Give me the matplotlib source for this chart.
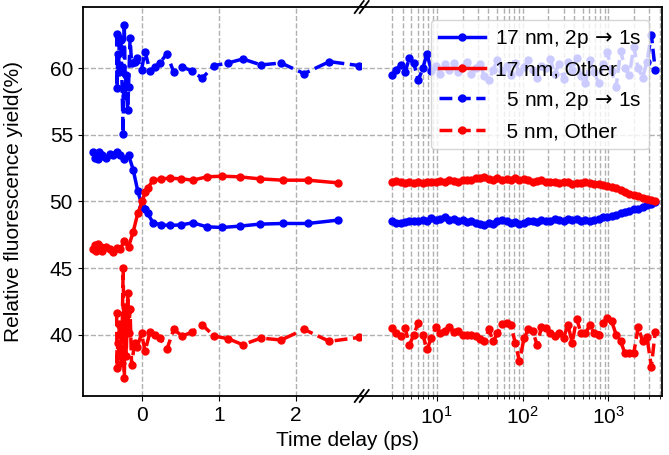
import numpy as np
import matplotlib
matplotlib.use("Agg")
import matplotlib.pyplot as plt
from matplotlib.ticker import FixedLocator, NullFormatter
from matplotlib.lines import Line2D

plt.rcParams['font.family'] = ['Liberation Sans', 'DejaVu Sans']
plt.rcParams['font.size'] = 15

# -----------------------------
# data, linear part (ps)
# -----------------------------
t17_lin = [-0.64, -0.62, -0.60, -0.58, -0.56, -0.54, -0.52, -0.47, -0.42, -0.38,
           -0.33, -0.29, -0.24, -0.18, -0.12, -0.06, 0.0, 0.035, 0.07, 0.14,
           0.25, 0.36, 0.51, 0.66, 0.84, 1.04, 1.27, 1.53, 1.83, 2.16, 2.55]
b17_lin = [53.7, 53.3, 53.6, 53.2, 53.7, 53.4, 53.5, 53.3, 53.6, 53.5,
           53.7, 53.5, 53.2, 53.5, 52.4, 50.8, 49.6, 49.4, 49.1, 48.4,
           48.25, 48.2, 48.25, 48.4, 48.1, 48.05, 48.15, 48.3, 48.35, 48.35, 48.6]
r17_lin = [46.4, 46.7, 46.3, 46.8, 46.5, 46.6, 46.3, 46.6, 46.4, 46.2,
           46.5, 46.4, 47.0, 46.6, 47.7, 49.1, 50.0, 50.7, 51.0, 51.6,
           51.7, 51.75, 51.7, 51.6, 51.85, 51.9, 51.85, 51.7, 51.6, 51.6, 51.4]

t5_lin = [-0.335, -0.33, -0.32, -0.31, -0.30, -0.28, -0.27, -0.25, -0.235, -0.22,
          -0.21, -0.19, -0.18, -0.16, -0.14, -0.10, -0.065, -0.01, 0.035, 0.10,
          0.165, 0.23, 0.32, 0.41, 0.52, 0.65, 0.78, 0.935, 1.12, 1.31,
          1.55, 1.81, 2.11, 2.44, 2.83]
b5_lin = [62.6, 58.5, 61.1, 59.75, 62.3, 62.1, 60.1, 55.1, 63.25, 57.9,
          59.5, 56.9, 58.6, 62.25, 60.4, 60.5, 60.75, 59.9, 61.25, 59.8,
          60.1, 60.4, 61.1, 59.7, 60.1, 59.8, 59.25, 60.2, 60.4, 60.7,
          60.25, 60.4, 59.6, 60.5, 60.2]
r5_lin = [41.6, 37.5, 39.4, 38.4, 40.8, 40.6, 37.9, 45.0, 36.75, 42.1,
          38.4, 43.1, 40.1, 41.9, 37.75, 39.4, 39.1, 40.1, 38.75, 40.2,
          40.0, 39.75, 38.9, 40.4, 39.9, 40.2, 40.75, 39.9, 39.7, 39.25,
          39.75, 39.6, 40.4, 39.5, 39.8]

# -----------------------------
# data, log part (ps)
# -----------------------------
t_log = [3.0, 3.4, 3.8, 4.3, 4.8, 5.4, 6.1, 6.9, 7.7, 8.7, 9.8,
         11, 12.4, 14, 15.7, 17.7, 20, 22.5, 25, 28.5, 32, 36,
         40.5, 45.5, 51, 58, 65, 73, 82, 92, 104,
         117, 131, 148, 166, 187, 210, 236, 266, 300, 337, 379,
         426, 480, 540, 607, 683, 768, 864, 972, 1090, 1230, 1385,
         1560, 1750, 1970, 2220, 2500, 2810, 3160, 3500]
b17_log = [48.5, 48.4, 48.35, 48.45, 48.5, 48.55, 48.5, 48.6, 48.55, 48.75, 48.6,
           48.7, 48.8, 48.6, 48.7, 48.5, 48.6, 48.45, 48.5, 48.4, 48.3, 48.25,
           48.35, 48.3, 48.5, 48.6, 48.5, 48.4, 48.45, 48.3, 48.35,
           48.5, 48.55, 48.45, 48.6, 48.5, 48.55, 48.65, 48.6, 48.5, 48.7, 48.6,
           48.65, 48.55, 48.6, 48.5, 48.6, 48.7, 48.8, 48.85, 48.9, 49.0, 49.1,
           49.2, 49.3, 49.4, 49.45, 49.6, 49.7, 49.8, 49.95]
r17_log = [51.5, 51.55, 51.45, 51.4, 51.45, 51.4, 51.5, 51.4, 51.45, 51.5, 51.45,
           51.55, 51.5, 51.6, 51.55, 51.5, 51.6, 51.65, 51.6, 51.75, 51.8, 51.85,
           51.7, 51.65, 51.75, 51.6, 51.7, 51.6, 51.75, 51.65, 51.7,
           51.6, 51.5, 51.55, 51.6, 51.5, 51.45, 51.5, 51.4, 51.5, 51.45, 51.35,
           51.4, 51.4, 51.45, 51.4, 51.35, 51.3, 51.25, 51.15, 51.1, 51.0, 50.9,
           50.75, 50.6, 50.5, 50.4, 50.3, 50.2, 50.1, 50.0]
b5_log = [59.5, 59.9, 60.25, 59.75, 60.75, 60.4, 59.1, 60.0, 61.1, 59.8, 60.2,
          59.6, 60.3, 59.9, 60.4, 59.7, 60.1, 60.5, 59.6, 60.0, 60.3, 59.4,
          59.1, 59.9, 60.6, 59.8, 60.2, 59.5, 60.4, 59.7, 60.1,
          60.6, 59.9, 59.3, 60.2, 60.0, 60.7, 59.6, 60.3, 59.2, 60.5, 59.9,
          60.8, 59.4, 58.9, 60.6, 59.7, 58.9, 60.3, 61.2, 59.8, 58.6, 61.3,
          60.0, 59.5, 61.6, 60.0, 59.3, 60.5, 62.5, 59.9]
r5_log = [40.5, 40.1, 39.9, 40.5, 39.2, 40.0, 40.9, 40.0, 38.9, 39.75, 40.6,
          40.1, 40.3, 40.6, 40.2, 40.3, 40.0, 40.0, 40.0, 39.9, 39.7, 39.5,
          40.4, 39.5, 40.1, 40.8, 40.9, 40.75, 39.4, 38.0, 39.75,
          40.4, 40.3, 39.2, 40.6, 40.5, 40.1, 39.9, 40.1, 39.75, 40.75, 39.4,
          41.2, 40.1, 40.1, 40.75, 40.1, 40.0, 40.9, 41.25, 41.0, 40.0, 39.5,
          38.6, 38.6, 38.6, 40.6, 39.5, 39.8, 37.6, 40.2]

labels = [r'17 nm, 2p $\!\rightarrow\!$ 1s', '17 nm, Other',
          r'  5 nm, 2p $\!\rightarrow\!$ 1s', '  5 nm, Other']

# -----------------------------
# figure with broken x axis
# -----------------------------
fig = plt.figure(figsize=(6.69, 4.55), dpi=100)
x0, xm, x1 = 0.1236, 0.5407, 0.9895
y0, y1 = 0.1297, 0.9846
ax1 = fig.add_axes([x0, y0, xm - x0, y1 - y0])
ax2 = fig.add_axes([xm, y0, x1 - xm, y1 - y0])

sty = dict(marker='o', ms=5, lw=2.5)
ax1.plot(t17_lin, b17_lin, color='blue', ls='-', **sty)
ax1.plot(t17_lin, r17_lin, color='red', ls='-', **sty)
ax1.plot(t5_lin, b5_lin, color='blue', ls='--', **sty)
ax1.plot(t5_lin, r5_lin, color='red', ls='--', **sty)

ax2.plot(t_log, b17_log, color='blue', ls='-', label=labels[0], **sty)
ax2.plot(t_log, r17_log, color='red', ls='-', label=labels[1], **sty)
ax2.plot(t_log, b5_log, color='blue', ls='--', label=labels[2], **sty)
ax2.plot(t_log, r5_log, color='red', ls='--', label=labels[3], **sty)

ylim = (35.4, 64.6)
ax1.set_xlim(-0.778, 2.862)
ax1.set_ylim(*ylim)
ax1.set_xticks([0, 1, 2])
ax1.set_yticks([40, 45, 50, 55, 60])

ax2.set_xscale('log')
ax2.set_xlim(1.34, 4200)
ax2.set_ylim(*ylim)
ax2.xaxis.set_major_locator(FixedLocator([10, 100, 1000]))
minor = [m * d for d in (1, 10, 100, 1000) for m in range(2, 10)
         if 3 <= m * d <= 4000]
ax2.xaxis.set_minor_locator(FixedLocator(minor))
ax2.xaxis.set_minor_formatter(NullFormatter())
ax2.set_yticks([40, 45, 50, 55, 60])
ax2.tick_params(axis='y', left=False, labelleft=False)

grid = dict(color='#b0b0b0', ls='--', lw=1)
ax1.grid(True, **grid)
ax2.grid(True, which='both', **grid)

for ax in (ax1, ax2):
    for s in ax.spines.values():
        s.set_linewidth(1.3)
ax1.spines['right'].set_visible(False)
ax2.spines['left'].set_visible(False)

ax1.set_ylabel('Relative fluorescence yield(%)')
ax1.yaxis.set_label_coords(-0.215, 0.5)
fig.text(0.52, 0.031, 'Time delay (ps)', ha='center', va='center')

ax2.legend(loc='upper right', handlelength=2.2, handletextpad=0.45,
           fontsize=15, borderaxespad=0.6)

# break marks "//" at the junction
dx, dy = 4.5 / 669, 6 / 455
for yy in (y0, y1):
    for off in (-2.5 / 669, 2.5 / 669):
        fig.add_artist(Line2D([xm + off - dx, xm + off + dx], [yy - dy, yy + dy],
                              color='k', lw=1.3, transform=fig.transFigure))

plt.savefig('out.png', dpi=100)
